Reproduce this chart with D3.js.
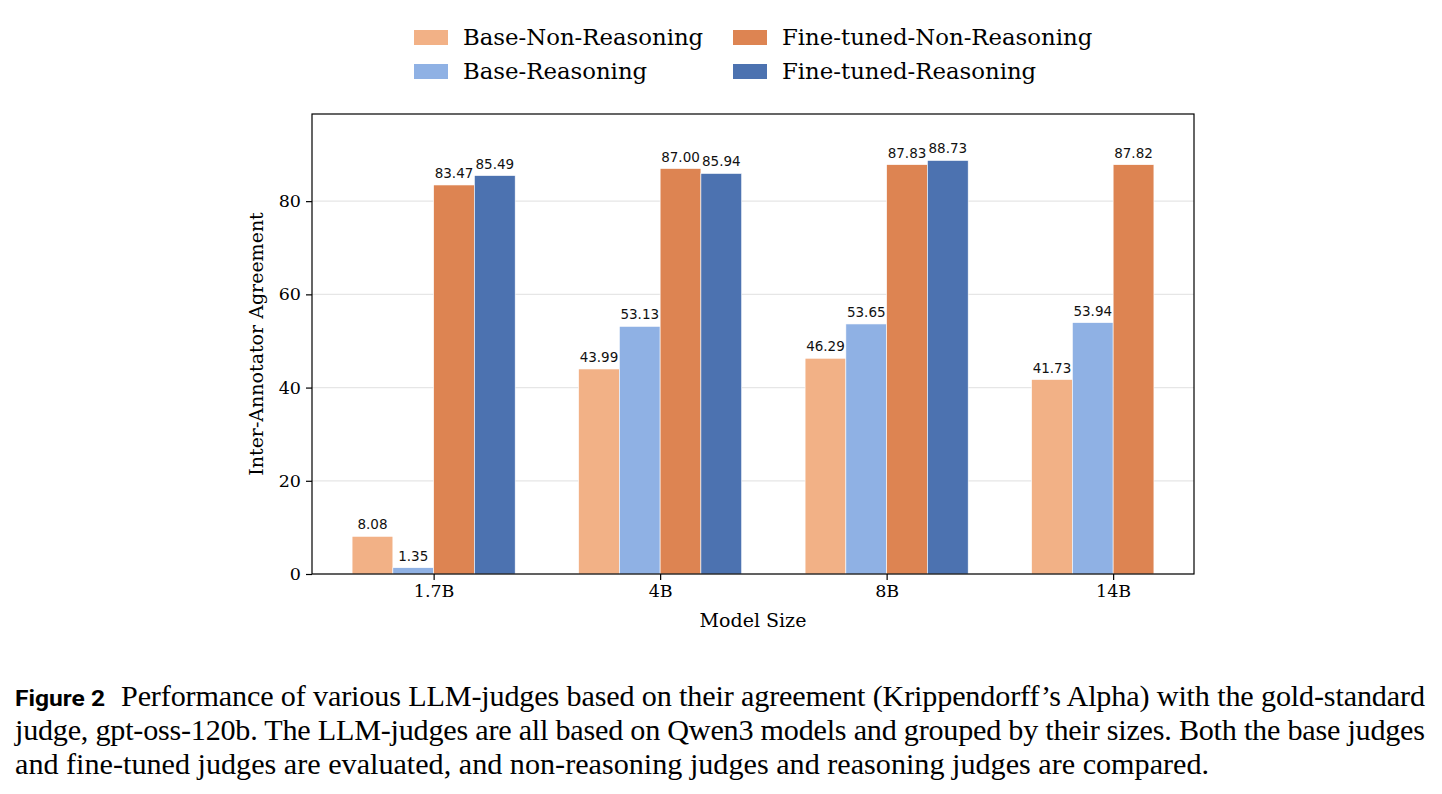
<!DOCTYPE html>
<html><head><meta charset="utf-8">
<script src="https://cdn.jsdelivr.net/npm/d3@7"></script>
<style>body{margin:0;background:#fff}</style>
</head><body>
<svg id="c" width="1442" height="794"></svg>
<script>
const categories = ["1.7B", "4B", "8B", "14B"];
const seriesNames = ["Base-Non-Reasoning", "Base-Reasoning", "Fine-tuned-Non-Reasoning", "Fine-tuned-Reasoning"];
const baseNonReasoning = [8.08, 43.99, 46.29, 41.73];
const baseReasoning = [1.35, 53.13, 53.65, 53.94];
const ftNonReasoning = [83.47, 87.00, 87.83, 87.82];
const ftReasoning = [85.49, 85.94, 88.73, null];
const colors = ["#F2B186", "#8FB1E4", "#DD8452", "#4C72B0"];
const yTicks = [0, 20, 40, 60, 80];
const captionLines = [
  "Performance of various LLM-judges based on their agreement (Krippendorff\u2019s Alpha) with the gold-standard",
  "judge, gpt-oss-120b. The LLM-judges are all based on Qwen3 models and grouped by their sizes. Both the base judges",
  "and fine-tuned judges are evaluated, and non-reasoning judges and reasoning judges are compared."
];

const series = [baseNonReasoning, baseReasoning, ftNonReasoning, ftReasoning];
const svg = d3.select("#c");
const L = 312, R = 1194, T = 114, B = 574;
const barW = 0.18;
const x = d3.scaleLinear().domain([-0.537, 3.357]).range([L, R]);
const y = d3.scaleLinear().domain([0, 98.7]).range([B, T]);
const serif = "DejaVu Serif";

// grid
svg.append("g").selectAll("line").data(yTicks).join("line")
  .attr("x1", L).attr("x2", R).attr("y1", d => y(d)).attr("y2", d => y(d))
  .attr("stroke", "#e6e6e6").attr("stroke-width", 1.2);

// bars
series.forEach((vals, si) => {
  const off = (si - 1.5) * barW;
  const g = svg.append("g");
  vals.forEach((v, ci) => {
    if (v == null) return;
    const x0 = x(ci + off - barW / 2), x1 = x(ci + off + barW / 2);
    g.append("rect").attr("x", x0).attr("y", y(v)).attr("width", x1 - x0).attr("height", y(0) - y(v))
      .attr("fill", colors[si]).attr("stroke", "#fff").attr("stroke-width", 0.6);
    g.append("text").attr("x", (x0 + x1) / 2).attr("y", y(v) - 7)
      .attr("text-anchor", "middle").attr("font-family", "DejaVu Sans").attr("font-size", 13.5)
      .attr("fill", "#111").text(v.toFixed(2));
  });
});

// frame
svg.append("rect").attr("x", L).attr("y", T).attr("width", R - L).attr("height", B - T)
  .attr("fill", "none").attr("stroke", "#000").attr("stroke-width", 1.2);

// y axis
const yAx = svg.append("g").attr("transform", `translate(${L},0)`)
  .call(d3.axisLeft(y).tickValues(yTicks).tickSize(6).tickPadding(5));
yAx.select(".domain").remove();
yAx.selectAll("text").attr("font-family", serif).attr("font-size", 17.5).attr("fill", "#000");
yAx.selectAll("line").attr("stroke", "#000").attr("stroke-width", 1.2);

// x axis
const xAx = svg.append("g").attr("transform", `translate(0,${B})`)
  .call(d3.axisBottom(x).tickValues([0, 1, 2, 3]).tickFormat(i => categories[i]).tickSize(6).tickPadding(5));
xAx.select(".domain").remove();
xAx.selectAll("text").attr("font-family", serif).attr("font-size", 17.5).attr("fill", "#000");
xAx.selectAll("line").attr("stroke", "#000").attr("stroke-width", 1.2);

// axis labels
svg.append("text").attr("x", 753).attr("y", 627).attr("text-anchor", "middle")
  .attr("font-family", serif).attr("font-size", 19).text("Model Size");
svg.append("text").attr("transform", `translate(263,344) rotate(-90)`).attr("text-anchor", "middle")
  .attr("font-family", serif).attr("font-size", 19).text("Inter-Annotator Agreement");

// legend
const legX = [414, 733], legY = [37, 71];
seriesNames.forEach((n, i) => {
  const col = i < 2 ? 0 : 1, row = i % 2;
  const g = svg.append("g").attr("transform", `translate(${legX[col]},${legY[row]})`);
  g.append("rect").attr("x", 0).attr("y", -7).attr("width", 34).attr("height", 15).attr("fill", colors[i]);
  g.append("text").attr("x", 49).attr("y", 8).attr("font-family", serif).attr("font-size", 22.8).text(n);
});

// caption
const cap = svg.append("g");
cap.append("text").attr("x", 15).attr("y", 706).attr("font-family", "Roboto").attr("font-weight", "bold")
  .attr("font-size", 22.5).attr("textLength", 90).attr("lengthAdjust", "spacingAndGlyphs").text("Figure 2");
const capY = [706, 740, 774];
const capFont = "'Liberation Serif', 'Times New Roman', serif";
const probe = cap.append("text").attr("font-family", capFont).attr("font-size", 24).text(captionLines[2]);
const w24 = probe.node().getComputedTextLength();
probe.remove();
const capSize = 24 * 1195 / w24;
captionLines.forEach((t, i) => {
  const x0 = i === 0 ? 121 : 15;
  const tx = cap.append("text").attr("x", x0).attr("y", capY[i])
    .attr("font-family", capFont).attr("font-size", capSize).text(t);
  if (i < 2) tx.attr("textLength", 1425 - x0).attr("lengthAdjust", "spacing");
});
</script>
</body></html>
